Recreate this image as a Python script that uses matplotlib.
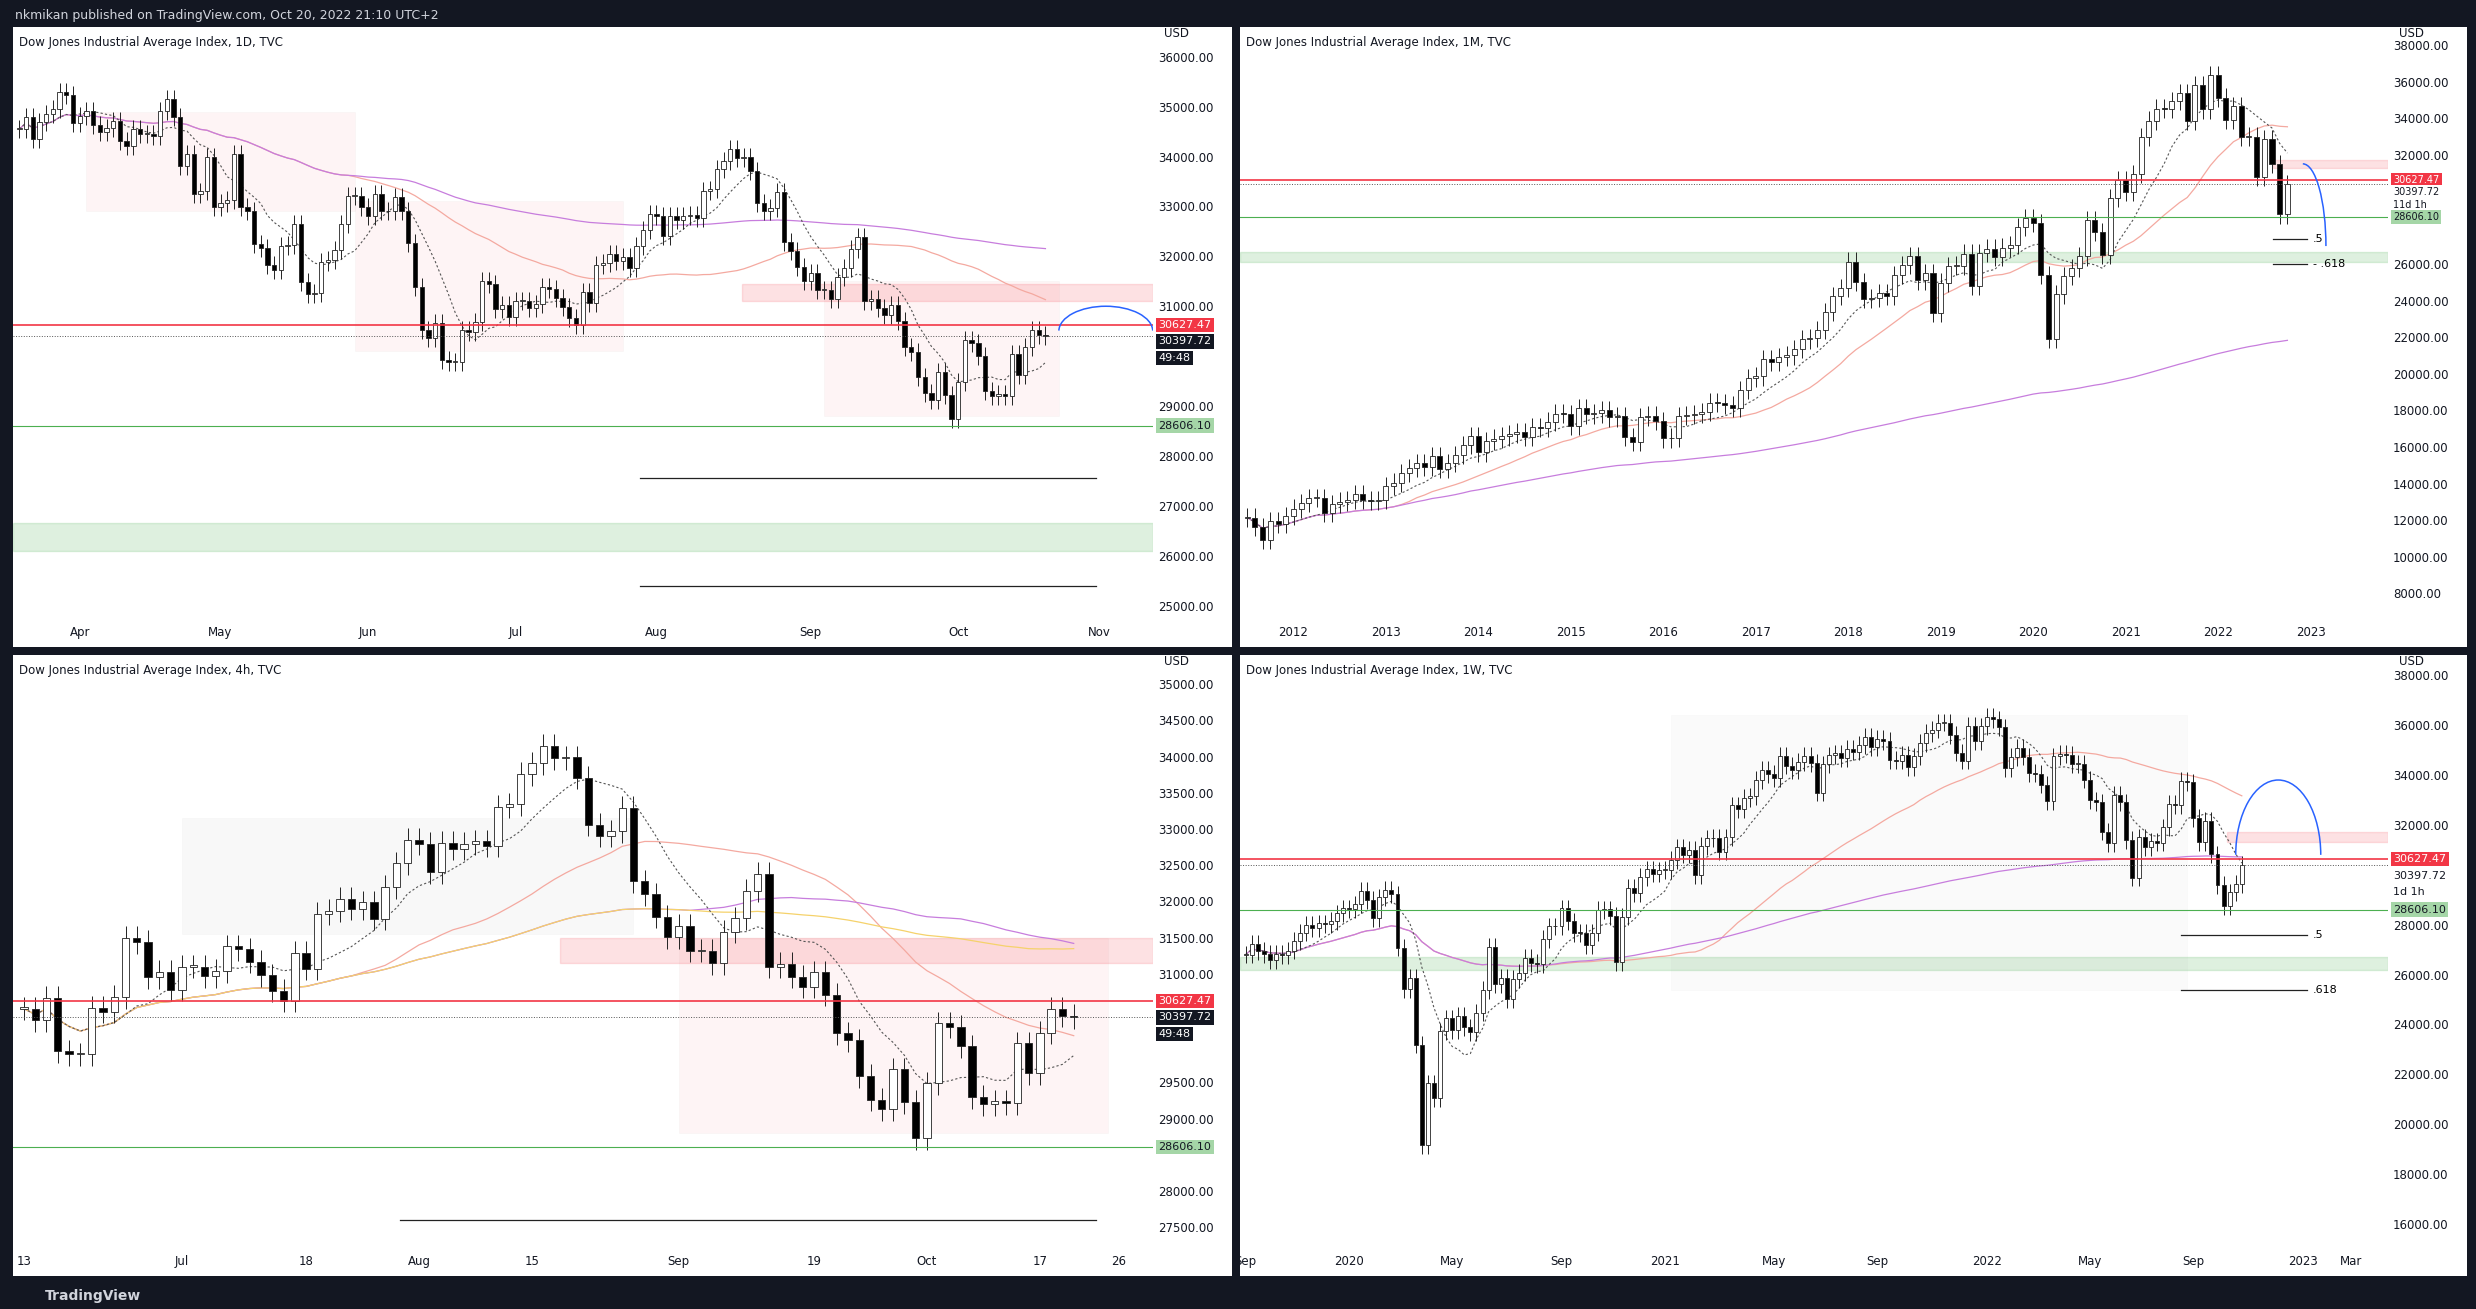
import numpy as np
import pandas as pd
import matplotlib.pyplot as plt
from matplotlib.patches import Rectangle, Arc

# ---- data (approximate) ----
daily_close = [
    34550, 34800, 34360, 34700, 34860, 34950, 35290, 35230, 34680, 34820,
    34920, 34640, 34500, 34580, 34720, 34310, 34220, 34560, 34450, 34450,
    34410, 34910, 35160, 34790, 33810, 34050, 33240, 33300, 34000, 32980,
    33060, 33130, 34060, 32997, 32900, 32245, 32160, 31830, 31730, 32200,
    32220, 32650, 31490, 31250, 31260, 31880, 31930, 32120, 32640, 33210,
    33210, 32990, 32810, 33250, 32900, 32915, 33180, 32910, 32270, 31390,
    30520, 30360, 30670, 29930, 29890, 29890, 30530, 30480, 30680, 31500,
    31440, 30950, 31030, 30780, 31100, 31100, 30970, 31040, 31380, 31340,
    31170, 30980, 30770, 30630, 31290, 31070, 31830, 31870, 32040, 31900,
    31990, 31760, 32200, 32530, 32850, 32800, 32400, 32810, 32730, 32800,
    32830, 32770, 33310, 33340, 33760, 33910, 34150, 33980, 33990, 33710,
    33060, 32910, 32970, 33290, 32280, 32100, 31790, 31510, 31660, 31320,
    31320, 31150, 31580, 31770, 32150, 32380, 31100, 31140, 30960, 30820,
    31020, 30710, 30180, 30080, 29590, 29260, 29130, 29680, 29230, 28730,
    29490, 30320, 30270, 30000, 29300, 29200, 29240, 29210, 30040, 29630,
    30190, 30520, 30420, 30398,
]
monthly_close = [
    12140, 11610, 10910, 11950, 11800, 12220,
    12630, 12950, 13210, 13210, 12390, 12880, 13010, 13090, 13440, 13100, 13030, 13100,
    13860, 14050, 14580, 14840, 15120, 14910, 15500, 14810, 15130, 15550, 16090, 16580,
    15700, 16320, 16460, 16580, 16720, 16830, 16560, 17100, 17040, 17390, 17830, 17820,
    17160, 18130, 17780, 17840, 18010, 17620, 17690, 16530, 16280, 17660, 17720, 17430,
    16470, 16520, 17690, 17770, 17790, 17930, 18430, 18400, 18310, 18140, 19120, 19760,
    19860, 20810, 20660, 20940, 21010, 21350, 21890, 21950, 22400, 23380, 24270, 24720,
    26150, 25030, 24100, 24160, 24420, 24270, 25420, 25960, 26460, 25120, 25540, 23330,
    25000, 25920, 25930, 26590, 24820, 26600, 26860, 26400, 26920, 27050, 28050, 28540,
    28260, 25410, 21920, 24350, 25380, 25810, 26430, 28430, 27780, 26500, 29640, 30600,
    29980, 30930, 32980, 33870, 34530, 34500, 34940, 35360, 33840, 35820, 34480, 36340,
    35130, 33890, 34680, 32980, 32990, 30780, 32850, 31510, 28730, 30398,
]
weekly_close = [
    26800, 27220, 26940, 26820, 26570, 26820, 26770, 26960,
    27350, 27680, 28000, 27870, 28050, 28015, 28140, 28450, 28650,
    28630, 28820, 29350, 28990, 28260, 29100, 29400, 29220, 27080, 25410,
    25860, 23190, 19170, 21640, 21050, 23720, 24240, 23780, 24350,
    23880, 23690, 24470, 25380, 27110, 25610, 25870, 25010,
    25830, 26080, 26670, 26470, 26430, 27430, 27930, 27930, 28650,
    28130, 27670, 27660, 27170, 27680, 28590, 28610, 28340, 26500,
    28320, 29480, 29260, 29910, 30220, 30050, 30180, 30200,
    30600, 31100, 30810, 30990, 29980, 31150, 31460, 31490, 30930,
    31500, 32780, 32630, 33070, 33150, 33800, 34200, 34040, 33870,
    34780, 34380, 34210, 34530, 34760, 34480, 33290, 34430,
    34790, 34870, 34690, 35060, 34940, 35210, 35520, 35120, 35460,
    35370, 34610, 34580, 34800, 34330, 34750, 35290, 35680, 35820,
    36100, 36100, 35600, 34900, 34580, 35970, 35370, 35950, 36340,
    36230, 35910, 34270, 34730, 35090, 34740, 34080, 34060,
    33610, 32940, 34750, 34860, 34820, 34450, 34450, 33810, 32980,
    32900, 31730, 31260, 33210, 32900, 31390, 29890, 31500,
    31100, 31340, 31290, 31900, 32850, 32800, 33760, 33710, 32280,
    31320, 32150, 30820, 29590, 28730, 29300, 29630, 30398,
]

resistance = 30627.47
last_price = 30397.72
support = 28606.10

BG = "#131722"
TXT = "#131722"
STEP = 0.028


def candles(ax, close, wick):
    close = np.array(close, dtype=float)
    opn = np.r_[close[0], close[:-1]]
    x = np.arange(len(close))
    hi = np.maximum(opn, close) + wick
    lo = np.minimum(opn, close) - wick
    up = close >= opn
    ax.vlines(x, lo, hi, color="#222", lw=0.7, zorder=3)
    bottom = np.minimum(opn, close)
    height = np.maximum(np.abs(close - opn), wick * 0.1)
    ax.bar(x, height, bottom=bottom, width=0.65, color=np.where(up, "white", "black"),
           edgecolor="#222", linewidth=0.6, zorder=4)
    return x, close


def overlays(ax, x, close, ma_windows, red_band=None, green_band=None, fibs=(), timer="49:48",
             band_x=0.64, fib_x=(0.55, 0.95), arc=None, step_f=STEP, fs=8):
    s = pd.Series(close)
    for w, col in ma_windows:
        ax.plot(x, s.rolling(w, min_periods=1).mean(), color=col, lw=0.9, zorder=2)
    ax.plot(x, s.rolling(9, min_periods=1).mean(), color="#555", lw=0.8, ls=(0, (2, 2)), zorder=2)
    ax.axhline(resistance, color="#f23645", lw=1.2, zorder=5)
    ax.axhline(last_price, color="#555", lw=0.7, ls=":", zorder=5)
    ax.axhline(support, color="#4caf50", lw=0.8, zorder=5)
    if red_band:
        ax.axhspan(*red_band, xmin=band_x, color="#f23645", alpha=0.15, zorder=1)
    if green_band:
        ax.axhspan(*green_band, color="#4caf50", alpha=0.18, zorder=1)
    for y, lab in fibs:
        ax.axhline(y, xmin=fib_x[0], xmax=fib_x[1], color="#222", lw=0.9, zorder=5)
        if lab:
            ax.text(fib_x[1] + 0.005, y, lab, transform=ax.get_yaxis_transform(), fontsize=8, va="center")
    if arc:
        ax.add_patch(Arc(arc[0], arc[1], arc[2], theta1=arc[3], theta2=arc[4], color="#2962ff",
                         lw=1.1, zorder=6))
    tr = ax.get_yaxis_transform()
    kw = dict(transform=tr, fontsize=fs, va="center", ha="left", clip_on=False, zorder=10)
    dark = timer == "49:48"
    fc = "#131722" if dark else "white"
    col = "white" if dark else TXT
    yl = ax.get_ylim()
    step = (yl[1] - yl[0]) * step_f
    ax.text(1.005, resistance, f"{resistance:.2f}", color="white",
            bbox=dict(boxstyle="square,pad=0.2", fc="#f23645", ec="none"), **kw)
    ax.text(1.005, resistance - step, f"{last_price:.2f}", color=col,
            bbox=dict(boxstyle="square,pad=0.2", fc=fc, ec="none"), **kw)
    ax.text(1.005, resistance - 2 * step, timer, color=col,
            bbox=dict(boxstyle="square,pad=0.2", fc=fc, ec="none"), **kw)
    ax.text(1.005, support, f"{support:.2f}", color=TXT,
            bbox=dict(boxstyle="square,pad=0.2", fc="#a5d6a7", ec="none"), **kw)


def setup_y(ax, lim, ticks):
    ax.set_ylim(*lim)
    step = (lim[1] - lim[0]) * STEP
    keep = [t for t in ticks
            if not (resistance - 2.8 * step < t < resistance + 0.9 * step)
            and abs(t - support) > 0.9 * step]
    ax.set_yticks(keep)


def style(ax, title, pos, labels):
    ax.yaxis.tick_right()
    yt = ax.get_yticks()
    ax.set_yticklabels([f"{v:.2f}" for v in yt])
    ax.set_xticks(pos)
    ax.set_xticklabels(labels)
    ax.tick_params(length=0, labelsize=8.5, colors=TXT, pad=4)
    for sp in ax.spines.values():
        sp.set_visible(False)
    ax.text(0.006, 0.985, title, transform=ax.transAxes, fontsize=8.5, va="top", color=TXT)
    ax.text(1.01, 1.0, "USD", transform=ax.transAxes, fontsize=8.5, va="top", color=TXT)


def tick_positions(dates, wanted):
    return [int(np.searchsorted(dates, pd.Timestamp(w))) for w in wanted]


fig = plt.figure(figsize=(24.76, 13.09), dpi=100, facecolor=BG)
fig.text(0.006, 0.988, "nkmikan published on TradingView.com, Oct 20, 2022 21:10 UTC+2",
         color="#d1d4dc", fontsize=9, va="center")
fig.text(0.018, 0.01, "TradingView", color="#d1d4dc", fontsize=10, fontweight="bold", va="center")

panels = [(8, 17), (785, 17), (8, 415), (785, 415)]
axes = []
for px, py in panels:
    w = 777 if px == 785 else 772
    fig.patches.append(Rectangle((px / 1568, 1 - (py + 393) / 829), w / 1568, 393 / 829,
                                 transform=fig.transFigure, fc="white", ec="none", zorder=-5))
    a = fig.add_axes([px / 1568, 1 - (py + 376) / 829, (w - 50) / 1568, 376 / 829])
    a.set_zorder(2)
    a.set_facecolor("white")
    axes.append(a)

# 1D
ax = axes[0]
d_dates = pd.bdate_range("2022-03-21", "2022-11-10")
setup_y(ax, (24700, 36600), np.arange(25000, 36001, 1000))
x, c = candles(ax, daily_close, 180)
ax.set_xlim(-1, len(d_dates))
overlays(ax, x, c, [(50, "#f4a9a0"), (200, "#c77ddd")], red_band=(31100, 31450),
         green_band=(26100, 26650), fibs=[(27550, None), (25400, None)],
         arc=((162, 30500), 14, 1000, 60, 120))
ax.add_patch(Rectangle((10, 32900), 40, 2000, fc="#f23645", alpha=0.05, ec="#999", lw=0.5))
ax.add_patch(Rectangle((50, 30100), 40, 3000, fc="#f23645", alpha=0.05, ec="#999", lw=0.5))
ax.add_patch(Rectangle((120, 28800), 35, 2700, fc="#f23645", alpha=0.05, ec="#999", lw=0.5))
style(ax, "Dow Jones Industrial Average Index, 1D, TVC",
      tick_positions(d_dates, ["2022-04-01", "2022-05-02", "2022-06-01", "2022-07-01", "2022-08-01",
                               "2022-09-01", "2022-10-03", "2022-11-01"]),
      ["Apr", "May", "Jun", "Jul", "Aug", "Sep", "Oct", "Nov"])

# 1M
ax = axes[1]
m_dates = pd.date_range("2011-07-01", "2023-10-01", freq="MS")
setup_y(ax, (6500, 39000), np.arange(8000, 38001, 2000))
x, c = candles(ax, monthly_close, 500)
ax.set_xlim(-1, len(m_dates))
overlays(ax, x, c, [(20, "#f4a9a0"), (200, "#c77ddd")], red_band=(31300, 31700),
         green_band=(26100, 26700), fibs=[(27400, ".5"), (26000, "- .618")], timer="11d 1h",
         band_x=0.9, fib_x=(0.9, 0.93), arc=((137, 27000), 6, 9000, 0, 90), step_f=0.021, fs=7)
style(ax, "Dow Jones Industrial Average Index, 1M, TVC",
      tick_positions(m_dates, [f"{y}-01-01" for y in range(2012, 2024)]),
      [str(y) for y in range(2012, 2024)])

# 4h (drawn from daily values since Jun 13)
ax = axes[2]
h_dates = pd.bdate_range("2022-06-13", "2022-10-28")
setup_y(ax, (27200, 35400), np.arange(27500, 35001, 500))
x, c = candles(ax, daily_close[60:], 160)
ax.set_xlim(-1, len(h_dates))
overlays(ax, x, c, [(30, "#f4a9a0"), (60, "#c77ddd"), (90, "#f5d26b")], red_band=(31150, 31500),
         fibs=[(27600, None)], band_x=0.48, fib_x=(0.34, 0.95))
ax.add_patch(Rectangle((14, 31550), 40, 1600, fc="#888", alpha=0.06, ec="#999", lw=0.5))
ax.add_patch(Rectangle((58, 28800), 38, 2700, fc="#f23645", alpha=0.05, ec="#999", lw=0.5))
style(ax, "Dow Jones Industrial Average Index, 4h, TVC",
      tick_positions(h_dates, ["2022-06-13", "2022-07-01", "2022-07-18", "2022-08-01", "2022-08-15",
                               "2022-09-01", "2022-09-19", "2022-10-03", "2022-10-17", "2022-10-26"]),
      ["13", "Jul", "18", "Aug", "15", "Sep", "19", "Oct", "17", "26"])

# 1W
ax = axes[3]
w_dates = pd.date_range("2019-09-06", "2023-04-07", freq="W-FRI")
setup_y(ax, (15000, 38800), np.arange(16000, 38001, 2000))
x, c = candles(ax, weekly_close, 350)
ax.set_xlim(-1, len(w_dates))
overlays(ax, x, c, [(50, "#f4a9a0"), (200, "#c77ddd")], red_band=(31300, 31700),
         green_band=(26200, 26700), fibs=[(27600, ".5"), (25400, ".618")], timer="1d 1h",
         band_x=0.86, fib_x=(0.82, 0.93), arc=((170, 30800), 14, 6000, 0, 150))
ax.add_patch(Rectangle((70, 25400), 85, 11000, fc="#888", alpha=0.04, ec="#999", lw=0.5))
style(ax, "Dow Jones Industrial Average Index, 1W, TVC",
      tick_positions(w_dates, ["2019-09-01", "2020-01-01", "2020-05-01", "2020-09-01", "2021-01-01",
                               "2021-05-01", "2021-09-01", "2022-01-01", "2022-05-01", "2022-09-01",
                               "2023-01-01", "2023-03-01"]),
      ["Sep", "2020", "May", "Sep", "2021", "May", "Sep", "2022", "May", "Sep", "2023", "Mar"])

fig.savefig("out.png", dpi=100, facecolor=BG)
